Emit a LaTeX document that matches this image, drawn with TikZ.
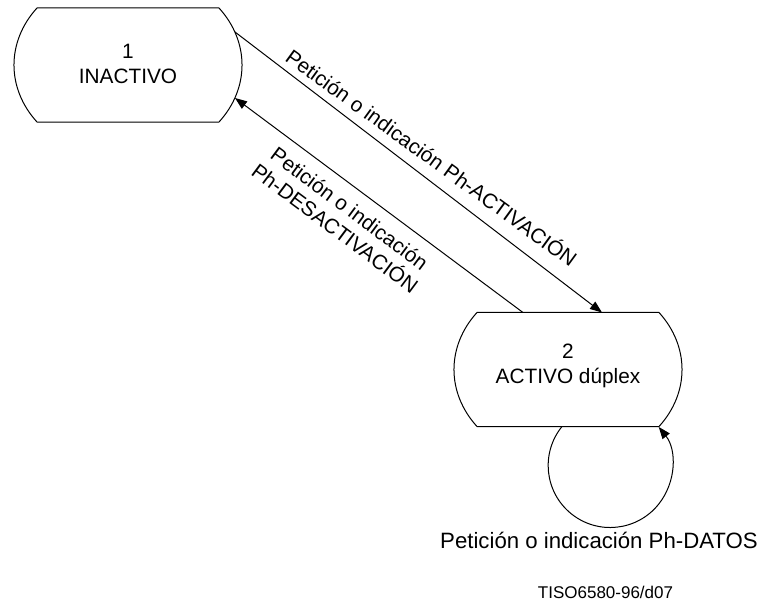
\documentclass[tikz,border=0pt]{standalone}
\usepackage{fontspec}
\setmainfont{Liberation Sans}
\usetikzlibrary{arrows.meta,calc}

% half-axes of the ellipse that forms the curved sides of a state,
% and the half-width / half-height where it is cut flat
\def\ea{57pt}\def\eb{47.3pt}
\def\cw{45.5pt}\def\ch{28.5pt}

% outline of a state: flat top and bottom, elliptic left and right sides
\newcommand\stateoutline[1]{%
  \draw[line] ($(#1.center)+(-\cw,\ch)$) -- ++(2*\cw,0)
    arc[start angle=37.06, end angle=-37.06, x radius=\ea, y radius=\eb]
    -- ++(-2*\cw,0)
    arc[start angle=217.06, end angle=142.94, x radius=\ea, y radius=\eb]
    -- cycle;}

\tikzset{
  line/.style={line width=0.5pt, black},
  arrowline/.style={line, -{Triangle[length=6pt,width=4.5pt]}},
  statetext/.style={align=center, font=\fontsize{10.4}{12.4}\selectfont, inner sep=0pt},
  lbl/.style={align=center, font=\fontsize{10.4}{12.2}\selectfont, inner sep=1pt},
  ref/.style={font=\fontsize{8.5}{10}\selectfont, inner sep=0pt},
}

\begin{document}
\begin{tikzpicture}[x=1pt,y=1pt]
  \useasboundingbox (0,0) rectangle (386.5,303);

  % states
  \node[statetext] (s1) at (64,271) {1\\INACTIVO};
  \node[statetext] (s2) at (284,120) {2\\ACTIVO dúplex};
  \coordinate (c1) at (64,270.5);
  \coordinate (c2) at (284,118.25);
  \stateoutline{c1}
  \stateoutline{c2}

  % connector end points on the outlines
  \coordinate (a1) at ($(c1)+(53.5,16.5)$);
  \coordinate (a2) at ($(c2)+(17,28.5)$);
  \coordinate (b1) at ($(c2)+(-22.5,28.5)$);
  \coordinate (b2) at ($(c1)+(53.5,-16.5)$);
  \coordinate (l1) at ($(c2)+(-3,-28.5)$);

  % activation
  \draw[arrowline] (a1) -- (a2);
  \node[lbl, rotate=-36, anchor=base, inner sep=0pt] (la) at (213.5,221)
    {Petición o indicación Ph-ACTIVACIÓN};

  % deactivation
  \draw[arrowline] (b1) -- (b2);
  \path (b2) -- (b1)
    node[lbl, pos=0.44, sloped, below=5pt] (lb) {Petición o indicación\\Ph-DESACTIVACIÓN};

  % data self-loop
  \draw[arrowline] (l1) arc[start angle=141, end angle=398.5, radius=31pt];
  \node[lbl, font=\fontsize{11.1}{13}\selectfont] (ldat) at (299.5,33)
    {Petición o indicación Ph-DATOS};

  \node[ref] (tag) at (302.75,7) {TISO6580-96/d07};
\end{tikzpicture}
\end{document}
